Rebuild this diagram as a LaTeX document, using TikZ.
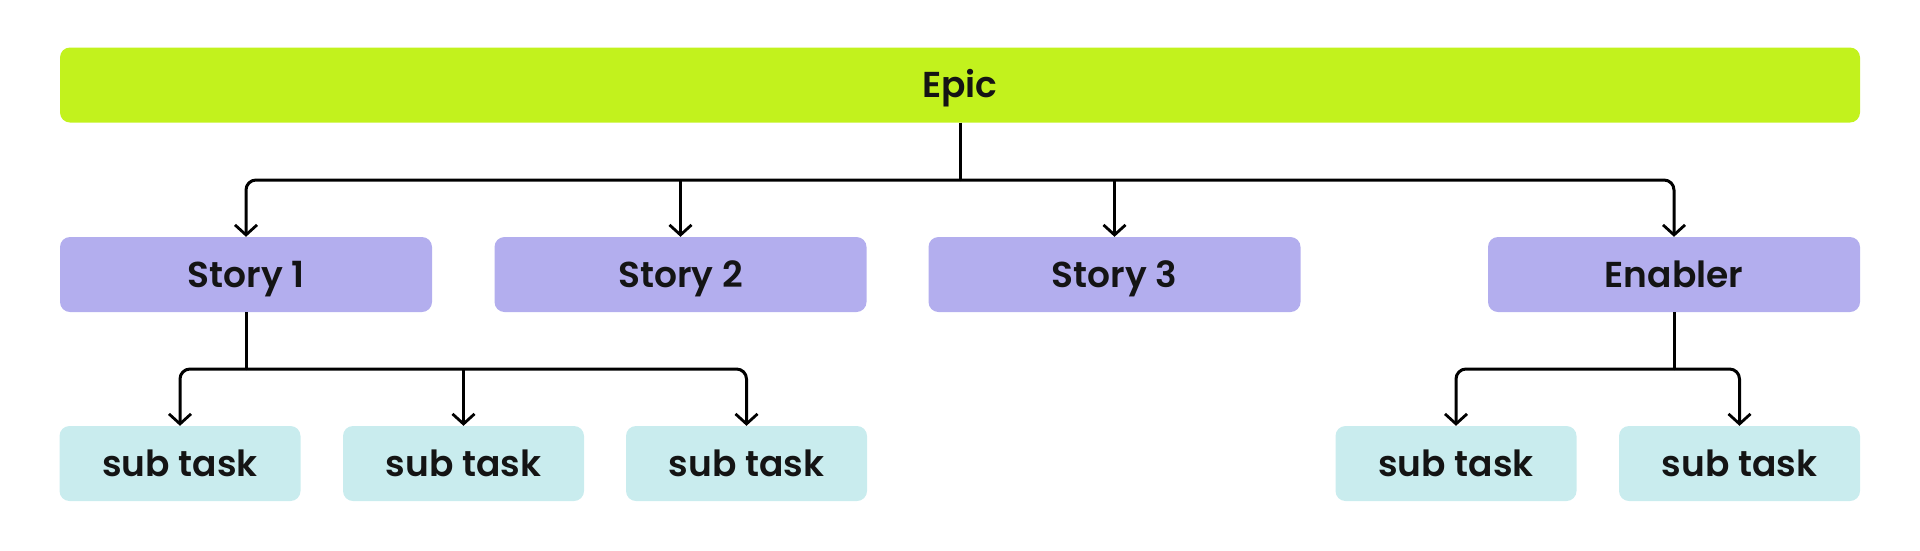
\documentclass[tikz,border=0pt]{standalone}
\usepackage{fontspec}
\setmainfont{Poppins}[UprightFont=* SemiBold]
\usetikzlibrary{arrows.meta}
\definecolor{epicc}{HTML}{C2F21D}
\definecolor{storyc}{HTML}{B3AEEE}
\definecolor{subc}{HTML}{C9ECEE}
\definecolor{txtc}{HTML}{141414}
\begin{document}
\begin{tikzpicture}[x=1pt,y=-1pt,
  box/.style={rounded corners=10pt, inner sep=0pt, text=txtc, font=\fontsize{36}{36}\selectfont, minimum height=75pt, text height=25pt, text depth=0pt},
  epicbox/.style={box, fill=epicc, minimum width=1800pt},
  storybox/.style={box, fill=storyc, minimum width=372pt},
  subbox/.style={box, fill=subc, minimum width=241pt},
  conn/.style={line width=3pt, draw=black, rounded corners=10pt},
  arr/.style={conn, -{Straight Barb[length=10pt,width=22pt,line width=2.8pt]}}]
\useasboundingbox (0,0) rectangle (1920,550);
\node[epicbox] (epic) at (960,85) {Epic};
\node[storybox] (s1) at (246,274.5) {Story 1};
\node[storybox] (s2) at (680.5,274.5) {Story 2};
\node[storybox] (s3) at (1114.5,274.5) {Story 3};
\node[storybox] (en) at (1674,274.5) {Enabler};
\node[subbox] (t1) at (180,463.5) {sub task};
\node[subbox] (t2) at (463.5,463.5) {sub task};
\node[subbox] (t3) at (746.5,463.5) {sub task};
\node[subbox] (t4) at (1456,463.5) {sub task};
\node[subbox] (t5) at (1739.5,463.5) {sub task};
\coordinate (bus) at (960,180);
\coordinate (busA) at (246,369);
\coordinate (busB) at (1674,369);
\draw[conn] (epic.south) -- (bus);
\draw[arr] (bus) -| (s1.north);
\draw[arr] (bus) -| (en.north);
\draw[arr] (s2.north |- bus) -- (s2.north);
\draw[arr] (s3.north |- bus) -- (s3.north);
\draw[conn] (s1.south) -- (busA);
\draw[arr] (busA) -| (t1.north);
\draw[arr] (busA) -| (t3.north);
\draw[arr] (t2.north |- busA) -- (t2.north);
\draw[conn] (en.south) -- (busB);
\draw[arr] (busB) -| (t4.north);
\draw[arr] (busB) -| (t5.north);
\end{tikzpicture}
\end{document}
